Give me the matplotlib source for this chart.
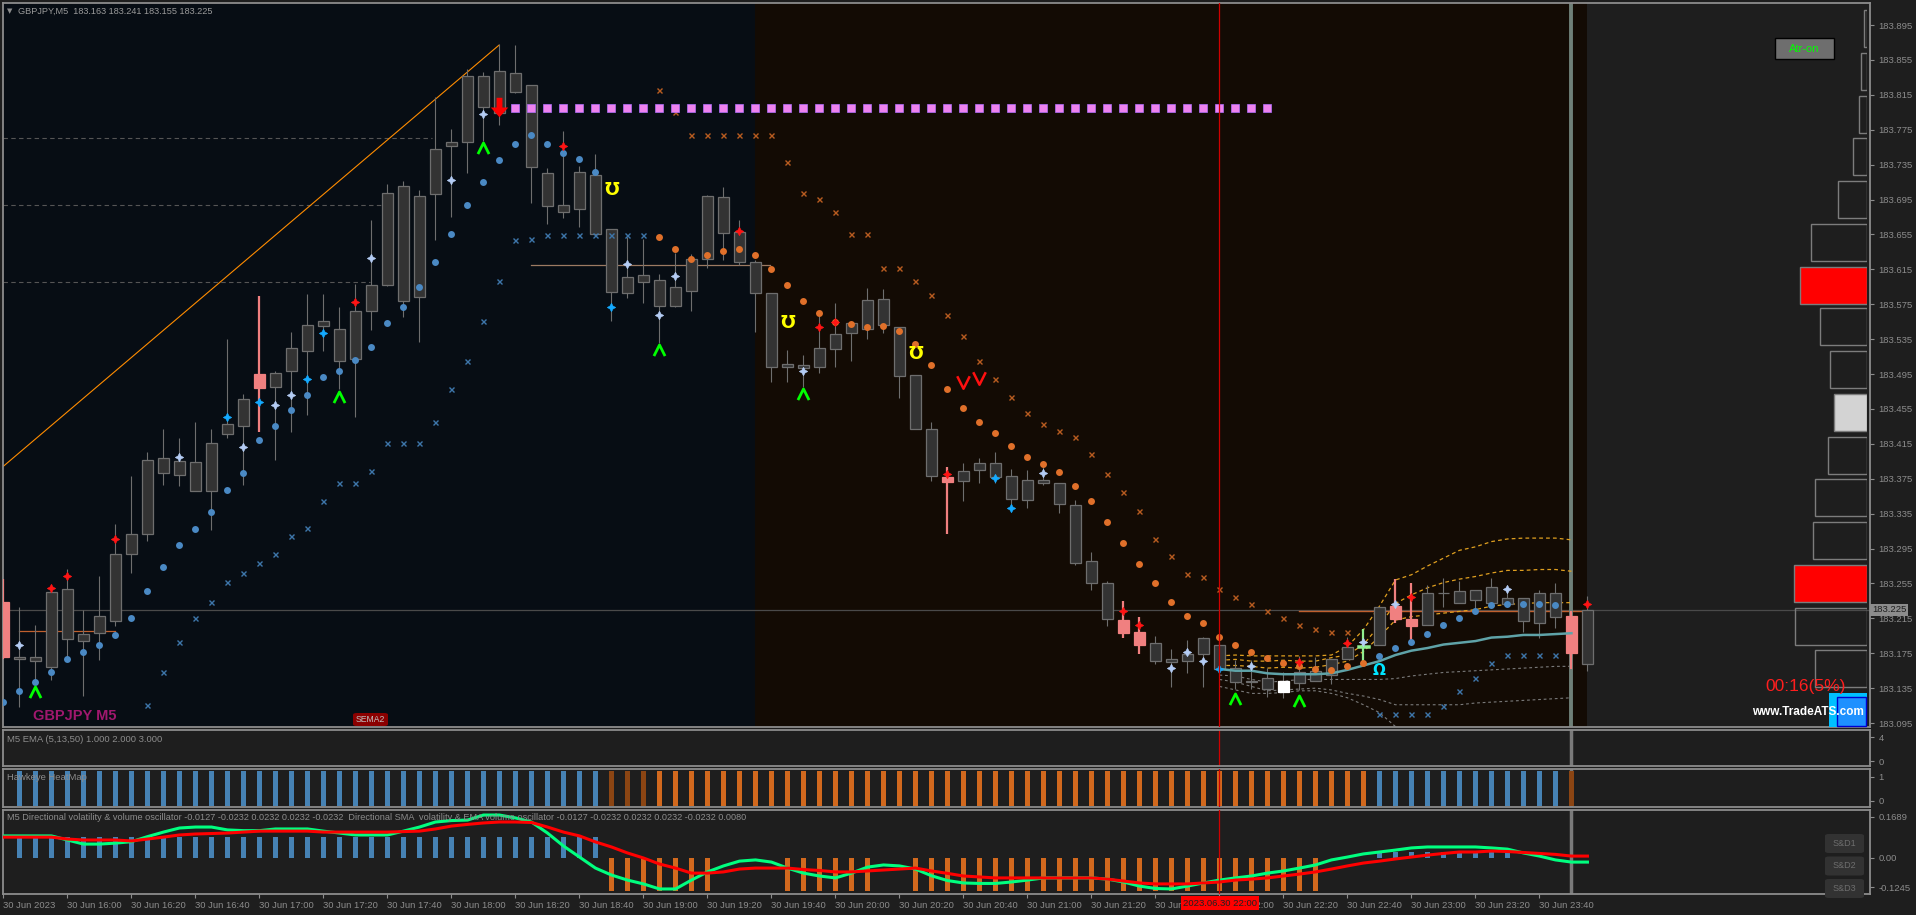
import numpy as np
import pandas as pd
import matplotlib
matplotlib.use("Agg")
import matplotlib.pyplot as plt
from matplotlib.patches import Rectangle, FancyBboxPatch
from matplotlib.path import Path

plt.rcParams['font.family'] = ['Liberation Sans', 'DejaVu Sans']

W, H = 1916, 915

############################################################
# Data
############################################################

header = "GBPJPY,M5  183.163 183.241 183.155 183.225"
times = pd.date_range("2023-06-30 15:40", periods=100, freq="5min")

opens = [183.234, 183.171, 183.166, 183.159, 183.249, 183.189, 183.198, 183.212, 183.289, 183.312,
         183.382, 183.395, 183.394, 183.361, 183.426, 183.436, 183.479, 183.480, 183.498, 183.522,
         183.550, 183.547, 183.512, 183.567, 183.597, 183.711, 183.583, 183.701, 183.756, 183.761,
         183.837, 183.794, 183.840, 183.826, 183.725, 183.689, 183.684, 183.723, 183.661, 183.588,
         183.609, 183.603, 183.573, 183.590, 183.627, 183.698, 183.658, 183.623, 183.588, 183.503,
         183.505, 183.503, 183.524, 183.542, 183.547, 183.581, 183.549, 183.494, 183.432, 183.377,
         183.372, 183.385, 183.393, 183.378, 183.351, 183.374, 183.370, 183.345, 183.281, 183.255,
         183.213, 183.199, 183.187, 183.165, 183.166, 183.174, 183.184, 183.158, 183.142, 183.147,
         183.143, 183.141, 183.143, 183.150, 183.168, 183.182, 183.184, 183.229, 183.214, 183.207,
         183.244, 183.233, 183.247, 183.233, 183.238, 183.238, 183.210, 183.244, 183.218, 183.163]
highs = [183.260, 183.228, 183.207, 183.253, 183.272, 183.225, 183.264, 183.323, 183.378, 183.406,
         183.432, 183.422, 183.440, 183.432, 183.535, 183.472, 183.584, 183.498, 183.543, 183.587,
         183.587, 183.572, 183.598, 183.672, 183.713, 183.716, 183.706, 183.813, 183.776, 183.845,
         183.841, 183.873, 183.872, 183.826, 183.731, 183.774, 183.733, 183.747, 183.661, 183.652,
         183.650, 183.610, 183.634, 183.633, 183.700, 183.709, 183.672, 183.626, 183.588, 183.523,
         183.517, 183.565, 183.576, 183.555, 183.594, 183.592, 183.549, 183.494, 183.440, 183.388,
         183.393, 183.399, 183.406, 183.386, 183.385, 183.388, 183.370, 183.351, 183.291, 183.258,
         183.235, 183.217, 183.195, 183.180, 183.190, 183.194, 183.190, 183.167, 183.167, 183.158,
         183.154, 183.172, 183.171, 183.168, 183.194, 183.203, 183.228, 183.260, 183.256, 183.253,
         183.261, 183.258, 183.247, 183.261, 183.251, 183.238, 183.247, 183.256, 183.223, 183.241]
lows = [183.169, 183.113, 183.141, 183.144, 183.171, 183.126, 183.167, 183.206, 183.267, 183.304,
        183.368, 183.367, 183.361, 183.316, 183.422, 183.368, 183.429, 183.397, 183.429, 183.448,
        183.522, 183.478, 183.446, 183.546, 183.596, 183.560, 183.532, 183.649, 183.675, 183.725,
        183.762, 183.780, 183.817, 183.691, 183.667, 183.674, 183.664, 183.656, 183.556, 183.582,
        183.576, 183.531, 183.572, 183.567, 183.617, 183.626, 183.620, 183.543, 183.486, 183.486,
        183.480, 183.496, 183.503, 183.510, 183.535, 183.542, 183.468, 183.432, 183.372, 183.312,
        183.350, 183.370, 183.370, 183.339, 183.341, 183.368, 183.336, 183.276, 183.247, 183.206,
        183.193, 183.174, 183.163, 183.136, 183.152, 183.136, 183.153, 183.134, 183.134, 183.125,
        183.124, 183.133, 183.143, 183.140, 183.168, 183.164, 183.184, 183.210, 183.189, 183.207,
        183.228, 183.233, 183.225, 183.233, 183.228, 183.199, 183.193, 183.204, 183.157, 183.155]
closes = [183.171, 183.169, 183.171, 183.245, 183.191, 183.197, 183.218, 183.289, 183.312, 183.397,
          183.399, 183.379, 183.361, 183.416, 183.438, 183.466, 183.495, 183.496, 183.525, 183.551,
          183.556, 183.510, 183.567, 183.597, 183.703, 183.579, 183.699, 183.753, 183.761, 183.837,
          183.801, 183.842, 183.818, 183.732, 183.688, 183.681, 183.727, 183.656, 183.589, 183.606,
          183.601, 183.573, 183.595, 183.627, 183.699, 183.657, 183.623, 183.588, 183.503, 183.507,
          183.502, 183.525, 183.541, 183.554, 183.580, 183.551, 183.493, 183.432, 183.378, 183.371,
          183.384, 183.393, 183.377, 183.352, 183.374, 183.370, 183.346, 183.278, 183.255, 183.214,
          183.198, 183.184, 183.166, 183.168, 183.174, 183.193, 183.157, 183.142, 183.143, 183.134,
          183.131, 183.154, 183.155, 183.168, 183.182, 183.183, 183.228, 183.214, 183.206, 183.244,
          183.244, 183.246, 183.236, 183.251, 183.231, 183.212, 183.244, 183.217, 183.175, 183.225]

pink_bars = [0, 16, 59, 70, 71, 87, 88, 98]
white_bars = [80]
green_bars = [85]

# trailing dots (blue = up, orange = down)
dot_blue_idx = list(range(0, 38)) + list(range(86, 98))
dot_blue = [183.119, 183.132, 183.142, 183.154, 183.168, 183.176, 183.184, 183.196, 183.216, 183.246,
            183.274, 183.299, 183.318, 183.337, 183.362, 183.382, 183.419, 183.436, 183.454, 183.471,
            183.492, 183.499, 183.511, 183.526, 183.554, 183.572, 183.595, 183.623, 183.655, 183.689,
            183.715, 183.740, 183.759, 183.769, 183.759, 183.748, 183.742, 183.727,
            183.172, 183.181, 183.188, 183.197, 183.207, 183.216, 183.224, 183.230, 183.231, 183.231,
            183.231, 183.230]
dot_orange_idx = list(range(41, 86))
dot_orange = [183.652, 183.638, 183.627, 183.632, 183.636, 183.638, 183.632, 183.616, 183.597, 183.579,
              183.565, 183.555, 183.552, 183.549, 183.550, 183.544, 183.529, 183.505, 183.478, 183.456,
              183.440, 183.427, 183.412, 183.400, 183.392, 183.383, 183.367, 183.349, 183.325, 183.301,
              183.277, 183.255, 183.234, 183.218, 183.210, 183.194, 183.185, 183.176, 183.170, 183.164,
              183.160, 183.157, 183.156, 183.160, 183.164]

# stop "x" markers
x_blue_idx = list(range(9, 41)) + list(range(86, 98))
x_blue = [183.116, 183.153, 183.188, 183.216, 183.234, 183.257, 183.267, 183.279, 183.289, 183.309,
          183.319, 183.349, 183.370, 183.370, 183.384, 183.416, 183.416, 183.416, 183.440, 183.478,
          183.510, 183.556, 183.602, 183.649, 183.650, 183.654, 183.654, 183.654, 183.654, 183.654,
          183.654, 183.654,
          183.105, 183.105, 183.105, 183.105, 183.115, 183.132, 183.147, 183.164, 183.173, 183.173,
          183.173, 183.173]
x_orange_idx = list(range(41, 85))
x_orange = [183.821, 183.795, 183.769, 183.769, 183.769, 183.769, 183.769, 183.769, 183.738, 183.703,
            183.696, 183.681, 183.655, 183.655, 183.617, 183.617, 183.602, 183.586, 183.563, 183.539,
            183.510, 183.489, 183.469, 183.450, 183.438, 183.430, 183.423, 183.403, 183.381, 183.360,
            183.338, 183.306, 183.286, 183.266, 183.262, 183.249, 183.240, 183.231, 183.224, 183.215,
            183.207, 183.203, 183.199, 183.199]

star_light_idx = [1, 11, 15, 17, 18, 23, 28, 30, 39, 41, 42, 50, 65, 73, 74, 75, 78, 85, 87, 94]
star_light = [183.184, 183.400, 183.411, 183.460, 183.471, 183.628, 183.718, 183.793, 183.621, 183.563,
              183.607, 183.498, 183.382, 183.158, 183.176, 183.166, 183.160, 183.188, 183.232, 183.249]
star_cyan_idx = [14, 16, 19, 20, 38, 62, 63, 76]
star_cyan = [183.446, 183.463, 183.489, 183.542, 183.572, 183.376, 183.342, 183.157]
star_red_idx = [3, 4, 7, 22, 35, 46, 51, 52, 59, 70, 71, 81, 84, 88, 99]
star_red = [183.250, 183.263, 183.306, 183.578, 183.756, 183.659, 183.549, 183.555, 183.381, 183.223,
            183.207, 183.165, 183.187, 183.240, 183.232]

up_sig_idx = [2, 21, 30, 41, 50, 77, 81]
up_sig = [183.131, 183.469, 183.754, 183.523, 183.472, 183.123, 183.120]
dn_sig_idx = [60, 61]
dn_sig = [183.486, 183.491]
yellow_sig_idx = [38, 49, 57]
yellow_sig = [183.706, 183.554, 183.518]
cyan_sig_idx = [86]
cyan_sig = [183.155]
arrow_idx, arrow_price = 31, 183.801

square_idx = list(range(32, 80))
square_level = 183.800

trend_x = [-0.03, 30.97]
trend_y = [183.389, 183.872]

dash_levels = [183.765, 183.689, 183.600]
dash_ends = [26.8, 23.7, 22.9]

# bands after 22:00
band_idx = list(range(76, 99))
band_mid = [183.157, 183.155, 183.155, 183.152, 183.151, 183.151, 183.151, 183.152, 183.156, 183.161,
            183.166, 183.173, 183.178, 183.181, 183.185, 183.187, 183.189, 183.193, 183.194, 183.196,
            183.196, 183.197, 183.198]
band_y1 = [183.172, 183.173, 183.172, 183.172, 183.172, 183.172, 183.172, 183.173, 183.183, 183.202,
           183.229, 183.259, 183.265, 183.275, 183.284, 183.293, 183.297, 183.303, 183.306, 183.307,
           183.307, 183.307, 183.305]
band_y2 = [183.167, 183.168, 183.166, 183.166, 183.167, 183.166, 183.166, 183.170, 183.173, 183.185,
           183.207, 183.232, 183.242, 183.250, 183.256, 183.260, 183.263, 183.267, 183.270, 183.270,
           183.271, 183.271, 183.269]
band_y3 = [183.161, 183.161, 183.160, 183.158, 183.159, 183.158, 183.159, 183.162, 183.166, 183.177,
           183.194, 183.213, 183.217, 183.219, 183.221, 183.223, 183.225, 183.229, 183.231, 183.232,
           183.233, 183.233, 183.233]
band_g1 = [183.150, 183.149, 183.145, 183.142, 183.143, 183.145, 183.145, 183.145, 183.145, 183.145,
           183.145, 183.146, 183.149, 183.151, 183.153, 183.154, 183.155, 183.156, 183.157, 183.158,
           183.159, 183.160, 183.160]
band_g2 = [183.145, 183.142, 183.137, 183.132, 183.133, 183.134, 183.135, 183.133, 183.129, 183.126,
           183.122, 183.116, 183.116, 183.116, 183.116, 183.116, 183.118, 183.119, 183.120, 183.121,
           183.122, 183.123, 183.124]
band_g3 = [183.137, 183.133, 183.129, 183.129, 183.130, 183.132, 183.132, 183.129, 183.124, 183.116,
           183.107, 183.091, 183.078, np.nan, np.nan, np.nan, np.nan, np.nan, np.nan, np.nan,
           np.nan, np.nan, np.nan]

# volume profile on the right
profile_price = [183.891, 183.842, 183.793, 183.744, 183.695, 183.646, 183.597, 183.549, 183.500,
                 183.451, 183.402, 183.353, 183.304, 183.255, 183.206, 183.157]
profile_vol = [3, 6, 8, 14, 29, 56, 67, 47, 37, 33, 39, 52, 54, 73, 72, 52]
profile_fill = ['none', 'none', 'none', 'none', 'none', 'none', '#ff0000', 'none', 'none',
                '#d3d3d3', 'none', 'none', 'none', '#ff0000', 'none', 'none']

# heatmap state: 1 up, 0 flat, -1 down
heat_state = [None] + [1] * 37 + [0] * 3 + [-1] * 45 + [1] * 12 + [0] + [None]

osc_green = [0.090, 0.090, 0.090, 0.090, 0.073, 0.056, 0.056, 0.060, 0.066, 0.087,
             0.106, 0.123, 0.127, 0.127, 0.115, 0.112, 0.112, 0.119, 0.119, 0.119,
             0.110, 0.102, 0.094, 0.094, 0.094, 0.110, 0.127, 0.148, 0.154, 0.156,
             0.177, 0.177, 0.165, 0.148, 0.102, 0.048, 0.002, -0.044, -0.073, -0.094,
             -0.110, -0.131, -0.131, -0.094, -0.060, -0.035, -0.015, -0.010, -0.019, -0.044,
             -0.065, -0.077, -0.085, -0.065, -0.040, -0.031, -0.035, -0.048, -0.076, -0.096,
             -0.106, -0.108, -0.108, -0.102, -0.094, -0.085, -0.085, -0.085, -0.085, -0.090,
             -0.102, -0.119, -0.129, -0.131, -0.119, -0.106, -0.094, -0.085, -0.077, -0.065,
             -0.056, -0.044, -0.031, -0.010, 0.002, 0.015, 0.023, 0.031, 0.040, 0.044,
             0.044, 0.044, 0.044, 0.040, 0.035, 0.019, 0.006, -0.010, -0.019, -0.019]
osc_red = [0.085, 0.085, 0.085, 0.085, 0.077, 0.073, 0.073, 0.073, 0.069, 0.077,
           0.085, 0.094, 0.098, 0.100, 0.102, 0.106, 0.110, 0.110, 0.110, 0.110,
           0.106, 0.106, 0.106, 0.106, 0.106, 0.108, 0.110, 0.119, 0.131, 0.138,
           0.144, 0.148, 0.148, 0.146, 0.127, 0.106, 0.090, 0.065, 0.044, 0.019,
           -0.002, -0.027, -0.044, -0.065, -0.065, -0.060, -0.048, -0.044, -0.044, -0.044,
           -0.050, -0.054, -0.060, -0.060, -0.056, -0.052, -0.048, -0.044, -0.056, -0.066,
           -0.077, -0.081, -0.085, -0.085, -0.085, -0.085, -0.085, -0.085, -0.085, -0.090,
           -0.098, -0.106, -0.110, -0.110, -0.110, -0.106, -0.102, -0.094, -0.090, -0.085,
           -0.077, -0.069, -0.060, -0.048, -0.035, -0.023, -0.015, -0.006, 0.002, 0.010,
           0.017, 0.023, 0.023, 0.027, 0.025, 0.021, 0.017, 0.013, 0.006, 0.006]
osc_hist = ([0.0] + [0.087] * 37 + [-0.14] * 7 + [0.0] * 4 + [-0.14] * 6 + [0.0] * 2
            + [-0.14] * 26 + [0.0] * 3 + [0.025] * 9 + [0.0] * 5)

price_ticks = [183.895 - 0.04 * k for k in range(21)]
last_price = 183.225
cursor_idx = 76
shift_idx = 98

############################################################
# Layout helpers
############################################################

def box(x0, y0, x1, y1):
    return [x0 / W, 1 - y1 / H, (x1 - x0) / W, (y1 - y0) / H]


def ftext(x, y, s, **kw):
    return fig.text(x / W, 1 - y / H, s, **kw)


def frect(x0, y0, x1, y1, **kw):
    fig.add_artist(Rectangle((x0 / W, 1 - y1 / H), (x1 - x0) / W, (y1 - y0) / H,
                             transform=fig.transFigure, **kw))


GRID = '#8c8c8c'
TXT = '#8c8c8c'
XMIN, XMAX = -0.031, 116.66

fig = plt.figure(figsize=(W / 100, H / 100), dpi=100, facecolor='#1e1e1e')

ax = fig.add_axes(box(3, 3, 1870, 727))
ax1 = fig.add_axes(box(3, 730, 1870, 766), sharex=ax)
ax2 = fig.add_axes(box(3, 769, 1870, 807), sharex=ax)
ax3 = fig.add_axes(box(3, 810, 1870, 894), sharex=ax)

for a in (ax, ax1, ax2, ax3):
    a.set_facecolor('#1e1e1e')
    for s in a.spines.values():
        s.set_color(GRID)
        s.set_linewidth(1.3)
    a.yaxis.tick_right()
    a.tick_params(axis='y', colors=GRID, labelcolor=TXT, labelsize=6.8, length=3, pad=3, width=0.8)
    a.tick_params(axis='x', bottom=False, labelbottom=False)
ax.set_xlim(XMIN, XMAX)

############################################################
# Main price panel
############################################################

idx = np.arange(len(opens))
o = np.array(opens)
c = np.array(closes)

ax.set_ylim(183.0905, 183.9203)
ax.axvspan(XMIN, 46.97, color='#070d14', zorder=0, lw=0)
ax.axvspan(46.97, 98.97, color='#130b04', zorder=0, lw=0)

for lev, end in zip(dash_levels, dash_ends):
    ax.plot([XMIN, end], [lev, lev], color='#555555', lw=0.8, ls=(0, (4, 3)), zorder=1)

ax.axhline(last_price, color='#4a4a4a', lw=0.9, zorder=1)
ax.plot([33, 47.9], [183.620, 183.620], color='#9c7a62', lw=0.9, zorder=1)
ax.plot([1, 7], [183.200, 183.200], color='#c0602e', lw=0.9, zorder=1)
ax.plot([81, 99], [183.2235, 183.2235], color='#c0602e', lw=1.0, zorder=1)

ax.plot(trend_x, trend_y, color='#ff8c00', lw=0.8, zorder=2)
ax.axvline(shift_idx, color='#6f8078', lw=2.8, zorder=1.5)
ax.axvline(cursor_idx, color='#d00000', lw=0.9, zorder=6)

# bands
ax.plot(band_idx, band_mid, color='#5fa3a8', lw=1.8, zorder=3.5)
for band in (band_y1, band_y2, band_y3):
    ax.plot(band_idx, band, color='#e0a020', lw=0.9, ls=(0, (3, 2.5)), zorder=2)
for band in (band_g1, band_g2, band_g3):
    ax.plot(band_idx, band, color='#7a7a7a', lw=0.8, ls=(0, (2.5, 2.5)), zorder=2)

# candles
for i in idx:
    if i in pink_bars:
        fc = ec = wc = '#f08080'
        ww = 1.6
    elif i in white_bars:
        fc = ec = '#ffffff'
        wc = '#707070'
        ww = 0.8
    elif i in green_bars:
        fc = ec = wc = '#90ee90'
        ww = 1.6
    else:
        fc, ec, wc, ww = '#333333', '#6e6e6e', '#6e6e6e', 0.8
    ax.vlines(i, lows[i], highs[i], color=wc, lw=ww, zorder=3)
    lw_body = 1.8 if i in green_bars else 0.9
    ax.bar(i, abs(c[i] - o[i]), bottom=min(o[i], c[i]), width=0.67,
           color=fc, edgecolor=ec, linewidth=lw_body, zorder=3.2)

# markers
ax.plot(dot_blue_idx, dot_blue, 'o', ms=5, color='#4a89c4', mew=0, zorder=4)
ax.plot(dot_orange_idx, dot_orange, 'o', ms=5, color='#e0702a', mew=0, zorder=4)
ax.plot(x_blue_idx, x_blue, 'x', ms=3.6, mew=1.0, color='#3e76aa', zorder=4)
ax.plot(x_orange_idx, x_orange, 'x', ms=3.6, mew=1.0, color='#b85c20', zorder=4)

star4 = (4, 1, 0)
ax.plot(star_light_idx, star_light, marker=star4, ls='none', ms=6, color='#b4ccf4', mew=0.5, zorder=5)
ax.plot(star_cyan_idx, star_cyan, marker=star4, ls='none', ms=6, color='#14aaff', mew=0.5, zorder=5)
ax.plot(star_red_idx, star_red, marker=star4, ls='none', ms=6, color='#ff1414', mew=0.5, zorder=5)

chev_up = Path([(-1, -1), (0, 1), (1, -1)], [Path.MOVETO, Path.LINETO, Path.LINETO])
chev_dn = Path([(-1, 1), (0, -1), (1, 1)], [Path.MOVETO, Path.LINETO, Path.LINETO])
ax.plot(up_sig_idx, up_sig, ls='none', marker=chev_up, ms=8, mfc='none', mec='#00ff00', mew=2, zorder=5)
ax.plot(dn_sig_idx, dn_sig, ls='none', marker=chev_dn, ms=9, mfc='none', mec='#ff1010', mew=1.8, zorder=5)

for i, p in zip(yellow_sig_idx, yellow_sig):
    ax.text(i, p, 'Ʊ', color='#ffff00', fontsize=12.5, fontweight='bold', ha='center', va='center',
            family='DejaVu Sans', zorder=5)
for i, p in zip(cyan_sig_idx, cyan_sig):
    ax.text(i, p, 'Ω', color='#00e5ff', fontsize=11, fontweight='bold', ha='center', va='center',
            family='DejaVu Sans', zorder=5)

arrow = Path([(-0.3, 1), (0.3, 1), (0.3, 0), (0.9, 0), (0, -1), (-0.9, 0), (-0.3, 0), (-0.3, 1)])
ax.plot([arrow_idx], [arrow_price], ls='none', marker=arrow, ms=14, color='#ff0000', mew=0, zorder=6)

ax.plot(square_idx, [square_level] * len(square_idx), 's', ms=6.3, color='#ee82ee',
        mec='#b070ff', mew=0.5, zorder=5)

ax.set_yticks(price_ticks)
ax.set_yticklabels([f"{p:.3f}" for p in price_ticks])
ax.text(1.001, last_price, f"{last_price:.3f}", transform=ax.get_yaxis_transform(),
        ha='left', va='center', fontsize=6.8, color='#1e1e1e', zorder=10, clip_on=False,
        bbox=dict(boxstyle='square,pad=0.15', fc='#8c8c8c', ec='none'))

# volume profile overlay
axp = fig.add_axes(box(1700, 3, 1867, 727))
axp.set_xlim(167, 0)
axp.set_ylim(ax.get_ylim())
axp.axis('off')
axp.patch.set_alpha(0)
axp.barh(profile_price, profile_vol, height=0.0424, left=0, color=profile_fill,
         edgecolor='#7c7c7c', linewidth=1.0)

############################################################
# Sub panels
############################################################

# EMA panel
ax1.set_ylim(-0.83, 5.17)
ax1.set_yticks([0, 4])
ax1.set_yticklabels(['0', '4'])
ax1.axvline(shift_idx, color='#7a7a7a', lw=2.5)
ax1.axvline(cursor_idx, color='#d00000', lw=0.9)

# heatmap
ax2.set_ylim(-0.25, 1.333)
ax2.set_yticks([0, 1])
ax2.set_yticklabels(['0', '1'])
heat_colors = {1: '#4682b4', 0: '#8b4513', -1: '#d2691e'}
hx = [i for i, s in enumerate(heat_state) if s is not None]
hc = [heat_colors[heat_state[i]] for i in hx]
ax2.axvline(shift_idx, color='#7a7a7a', lw=2.5)
ax2.bar(hx, [1.47] * len(hx), bottom=-0.21, width=0.34, color=hc, zorder=2)
ax2.axvline(cursor_idx, color='#d00000', lw=0.9, zorder=3)

# oscillator
ax3.set_ylim(-0.152, 0.198)
ax3.set_yticks([-0.1245, 0, 0.1689])
ax3.set_yticklabels(['-0.1245', '0.00', '0.1689'])
hist_colors = ['#4682b4' if v > 0 else '#d2691e' for v in osc_hist]
ax3.bar(idx, osc_hist, width=0.34, color=hist_colors, zorder=2)
ax3.axvline(shift_idx, color='#7a7a7a', lw=2.5, zorder=1)
ax3.plot(idx, osc_green, color='#00ff7f', lw=2.2, zorder=3)
ax3.plot(idx, osc_red, color='#ff0000', lw=2.2, zorder=3)
ax3.axvline(cursor_idx, color='#d00000', lw=0.9, zorder=4)

tick_idx = list(range(0, 100, 4))
tick_lab = ["30 Jun 2023"] + [times[i].strftime("30 Jun %H:%M") for i in tick_idx[1:]]
ax3.set_xticks(tick_idx)
ax3.set_xticklabels(tick_lab, ha='left')
ax3.tick_params(axis='x', bottom=True, labelbottom=True, colors=GRID, labelcolor=TXT,
                labelsize=6.8, length=3, width=0.8, pad=2)

############################################################
# Texts and widgets
############################################################

ftext(7, 11, '▼', color='#8c8c8c', fontsize=5, va='center', family='DejaVu Sans')
ftext(18, 11, header, color='#9a9a9a', fontsize=6.6, va='center')
ftext(7, 739, "M5 EMA (5,13,50) 1.000 2.000 3.000", color=TXT, fontsize=6.8, va='center')
ftext(7, 778, "Hawkeye HeatMap", color=TXT, fontsize=6.8, va='center')
ftext(7, 818, "M5 Directional volatility & volume oscillator -0.0127 -0.0232 0.0232 0.0232 -0.0232  "
      "Directional SMA  volatility & EMA volume oscillator -0.0127 -0.0232 0.0232 0.0232 -0.0232 0.0080",
      color=TXT, fontsize=6.6, va='center', zorder=1)

ftext(33, 716, "GBPJPY M5", color='#a0186e', fontsize=10.5, fontweight='bold', va='center')
fig.add_artist(FancyBboxPatch((353 / W, 1 - 726 / H), 35 / W, 13 / H,
                              boxstyle='round,pad=0,rounding_size=0.002',
                              transform=fig.transFigure, fc='#8b0000', ec='none'))
ftext(370.5, 719.5, "SEMA2", color='#c0c0c0', fontsize=6.2, ha='center', va='center')

frect(1775, 38, 1834, 59, fc='#6e6e6e', ec='#000000', lw=1)
ftext(1804.5, 48.5, "Atr-on", color='#00ff00', fontsize=8, ha='center', va='center')

ftext(1846, 686, "00:16(5%)", color='#ff1e1e', fontsize=12.5, ha='right', va='center')
frect(1829, 693, 1867, 727, fc='#00bfff', ec='none')
frect(1837, 697, 1866, 726, fc='#1e90ff', ec='#0000cd', lw=1)
ftext(1864, 712, "www.TradeATS.com", color='#ffffff', fontsize=8.5, fontweight='bold',
      ha='right', va='center')

for k, lab in enumerate(["S&D1", "S&D2", "S&D3"]):
    y0 = 834 + 22.5 * k
    fig.add_artist(FancyBboxPatch((1825 / W, 1 - (y0 + 19) / H), 39 / W, 19 / H,
                                  boxstyle='round,pad=0,rounding_size=0.002',
                                  transform=fig.transFigure, fc='#323232', ec='none'))
    ftext(1844.5, y0 + 9.5, lab, color='#6e6e6e', fontsize=6.5, ha='center', va='center')

ftext(1220, 903, "2023.06.30 22:00", color='#202020', fontsize=6.8, ha='center', va='center',
      bbox=dict(boxstyle='square,pad=0.25', fc='#ff0000', ec='none'))

fig.savefig("out.png", dpi=100, facecolor=fig.get_facecolor())
